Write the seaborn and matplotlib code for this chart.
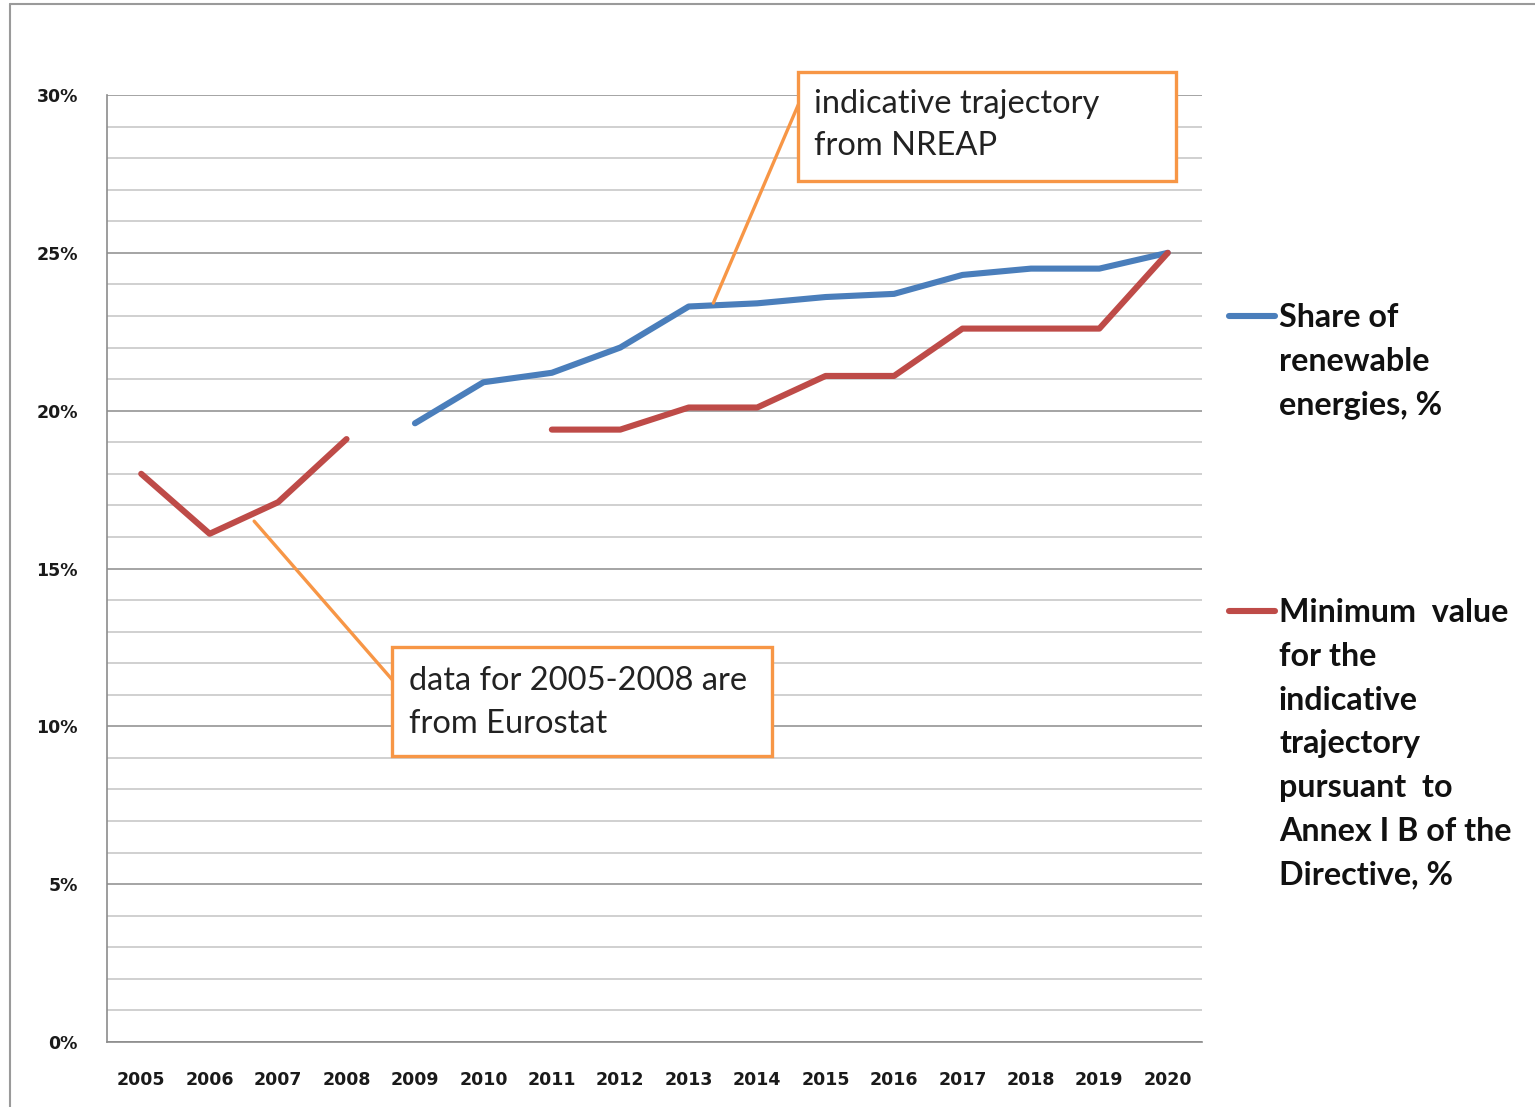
import numpy as np
import pandas as pd
import seaborn as sns
import matplotlib.pyplot as plt
from matplotlib.patches import Rectangle
from matplotlib.lines import Line2D

years = [str(y) for y in range(2005, 2021)]
share = [np.nan, np.nan, np.nan, np.nan, 19.6, 20.9, 21.2, 22.0, 23.3, 23.4, 23.6, 23.7, 24.3, 24.5, 24.5, 25.0]
minimum = [18.0, 16.1, 17.1, 19.1, np.nan, np.nan, 19.4, 19.4, 20.1, 20.1, 21.1, 21.1, 22.6, 22.6, 22.6, 25.0]

share_label = "Share of\nrenewable\nenergies, %"
min_label = "Minimum  value\nfor the\nindicative\ntrajectory\npursuant  to\nAnnex I B of the\nDirective, %"

blue = "#4A7EBB"
red = "#BE4B48"
orange = "#F79646"

sns.set_style("white")
plt.rcParams['font.family'] = ['Lato', 'DejaVu Sans']

# long table, one "segment" per unbroken run so gaps stay gaps
rows = []
for name, vals in [("share", share), ("minimum", minimum)]:
    seg = 0
    prev = False
    for i, v in enumerate(vals):
        if np.isnan(v):
            prev = False
            continue
        if not prev:
            seg += 1
        prev = True
        rows.append({"x": i, "value": v, "series": name, "segment": f"{name}{seg}"})
df = pd.DataFrame(rows)

fig = plt.figure(figsize=(15.35, 11.07), dpi=100)
ax = fig.add_axes([107 / 1535, 1 - 1042 / 1107, (1202 - 107) / 1535, (1042 - 95) / 1107])

sns.lineplot(data=df, x="x", y="value", hue="series", units="segment", estimator=None,
             palette={"share": blue, "minimum": red}, linewidth=4.4, legend=False, ax=ax,
             solid_capstyle="round", solid_joinstyle="round", zorder=3)

ax.set_xlim(-0.5, 15.5)
ax.set_ylim(0, 30)
ax.set_yticks(np.arange(0, 31, 5))
ax.set_yticks(np.arange(0, 31, 1), minor=True)
ax.set_yticklabels([f"{v}%" for v in range(0, 31, 5)])
ax.set_xticks(range(len(years)))
ax.set_xticklabels(years)
ax.set_xticks(np.arange(-0.5, 16, 1), minor=True)
ax.set_xlabel("")
ax.set_ylabel("")

ax.grid(axis="y", which="major", color="#8c8c8c", linewidth=1.1, zorder=0)
ax.grid(axis="y", which="minor", color="#c4c4c4", linewidth=1.1, zorder=0)
ax.grid(axis="x", which="both", visible=False)

for s in ["top", "right"]:
    ax.spines[s].set_visible(False)
for s in ["left", "bottom"]:
    ax.spines[s].set_color("#8c8c8c")
    ax.spines[s].set_linewidth(1.2)

ax.tick_params(axis="x", which="major", length=0, pad=21)
ax.tick_params(axis="x", which="minor", length=8, width=1.2, color="#8c8c8c", direction="out")
ax.tick_params(axis="y", which="major", length=8, width=1.2, color="#8c8c8c", direction="out", pad=13)
ax.tick_params(axis="y", which="minor", length=0)
for lab in ax.get_xticklabels() + ax.get_yticklabels():
    lab.set_fontfamily("DejaVu Sans")
    lab.set_fontweight("bold")
    lab.set_fontsize(12.5)
    lab.set_color("#1a1a1a")

# callout boxes
def callout(x0, x1, y0, y1, text, tx, ty, line_from, line_to):
    ax.add_patch(Rectangle((x0, y0), x1 - x0, y1 - y0, facecolor="white", edgecolor=orange,
                           linewidth=2.4, clip_on=False, zorder=5))
    ax.plot([line_from[0], line_to[0]], [line_from[1], line_to[1]], color=orange,
            linewidth=2.4, clip_on=False, zorder=4)
    ax.text(tx, ty, text, fontsize=23.5, color="#222222", va="top", ha="left",
            linespacing=1.52, zorder=6, clip_on=False)

callout(9.60, 15.12, 27.27, 30.73, "indicative trajectory\nfrom NREAP", 9.83, 30.2,
        (9.63, 29.84), (8.36, 23.41))
callout(3.67, 9.21, 9.06, 12.51, "data for 2005-2008 are\nfrom Eurostat", 3.92, 11.9,
        (3.67, 11.47), (1.65, 16.5))

# legend on the right, drawn by hand
def legend_entry(ypix, color, text):
    yf = 1 - ypix / 1107
    fig.add_artist(Line2D([1229 / 1535, 1275 / 1535], [yf, yf], color=color, linewidth=4.4,
                          solid_capstyle="round"))
    fig.text(1279 / 1535, yf + 13 / 1107, text, fontsize=23.2, fontweight="bold", va="top",
             ha="left", linespacing=1.615, color="#111111")

legend_entry(316, blue, share_label)
legend_entry(611, red, min_label)

# outer chart frame
fig.add_artist(Line2D([10 / 1535, 1.0], [1 - 4 / 1107, 1 - 4 / 1107], color="#9a9a9a", linewidth=1.5))
fig.add_artist(Line2D([10 / 1535, 10 / 1535], [0, 1 - 4 / 1107], color="#9a9a9a", linewidth=1.5))

fig.savefig("out.png", dpi=100)
